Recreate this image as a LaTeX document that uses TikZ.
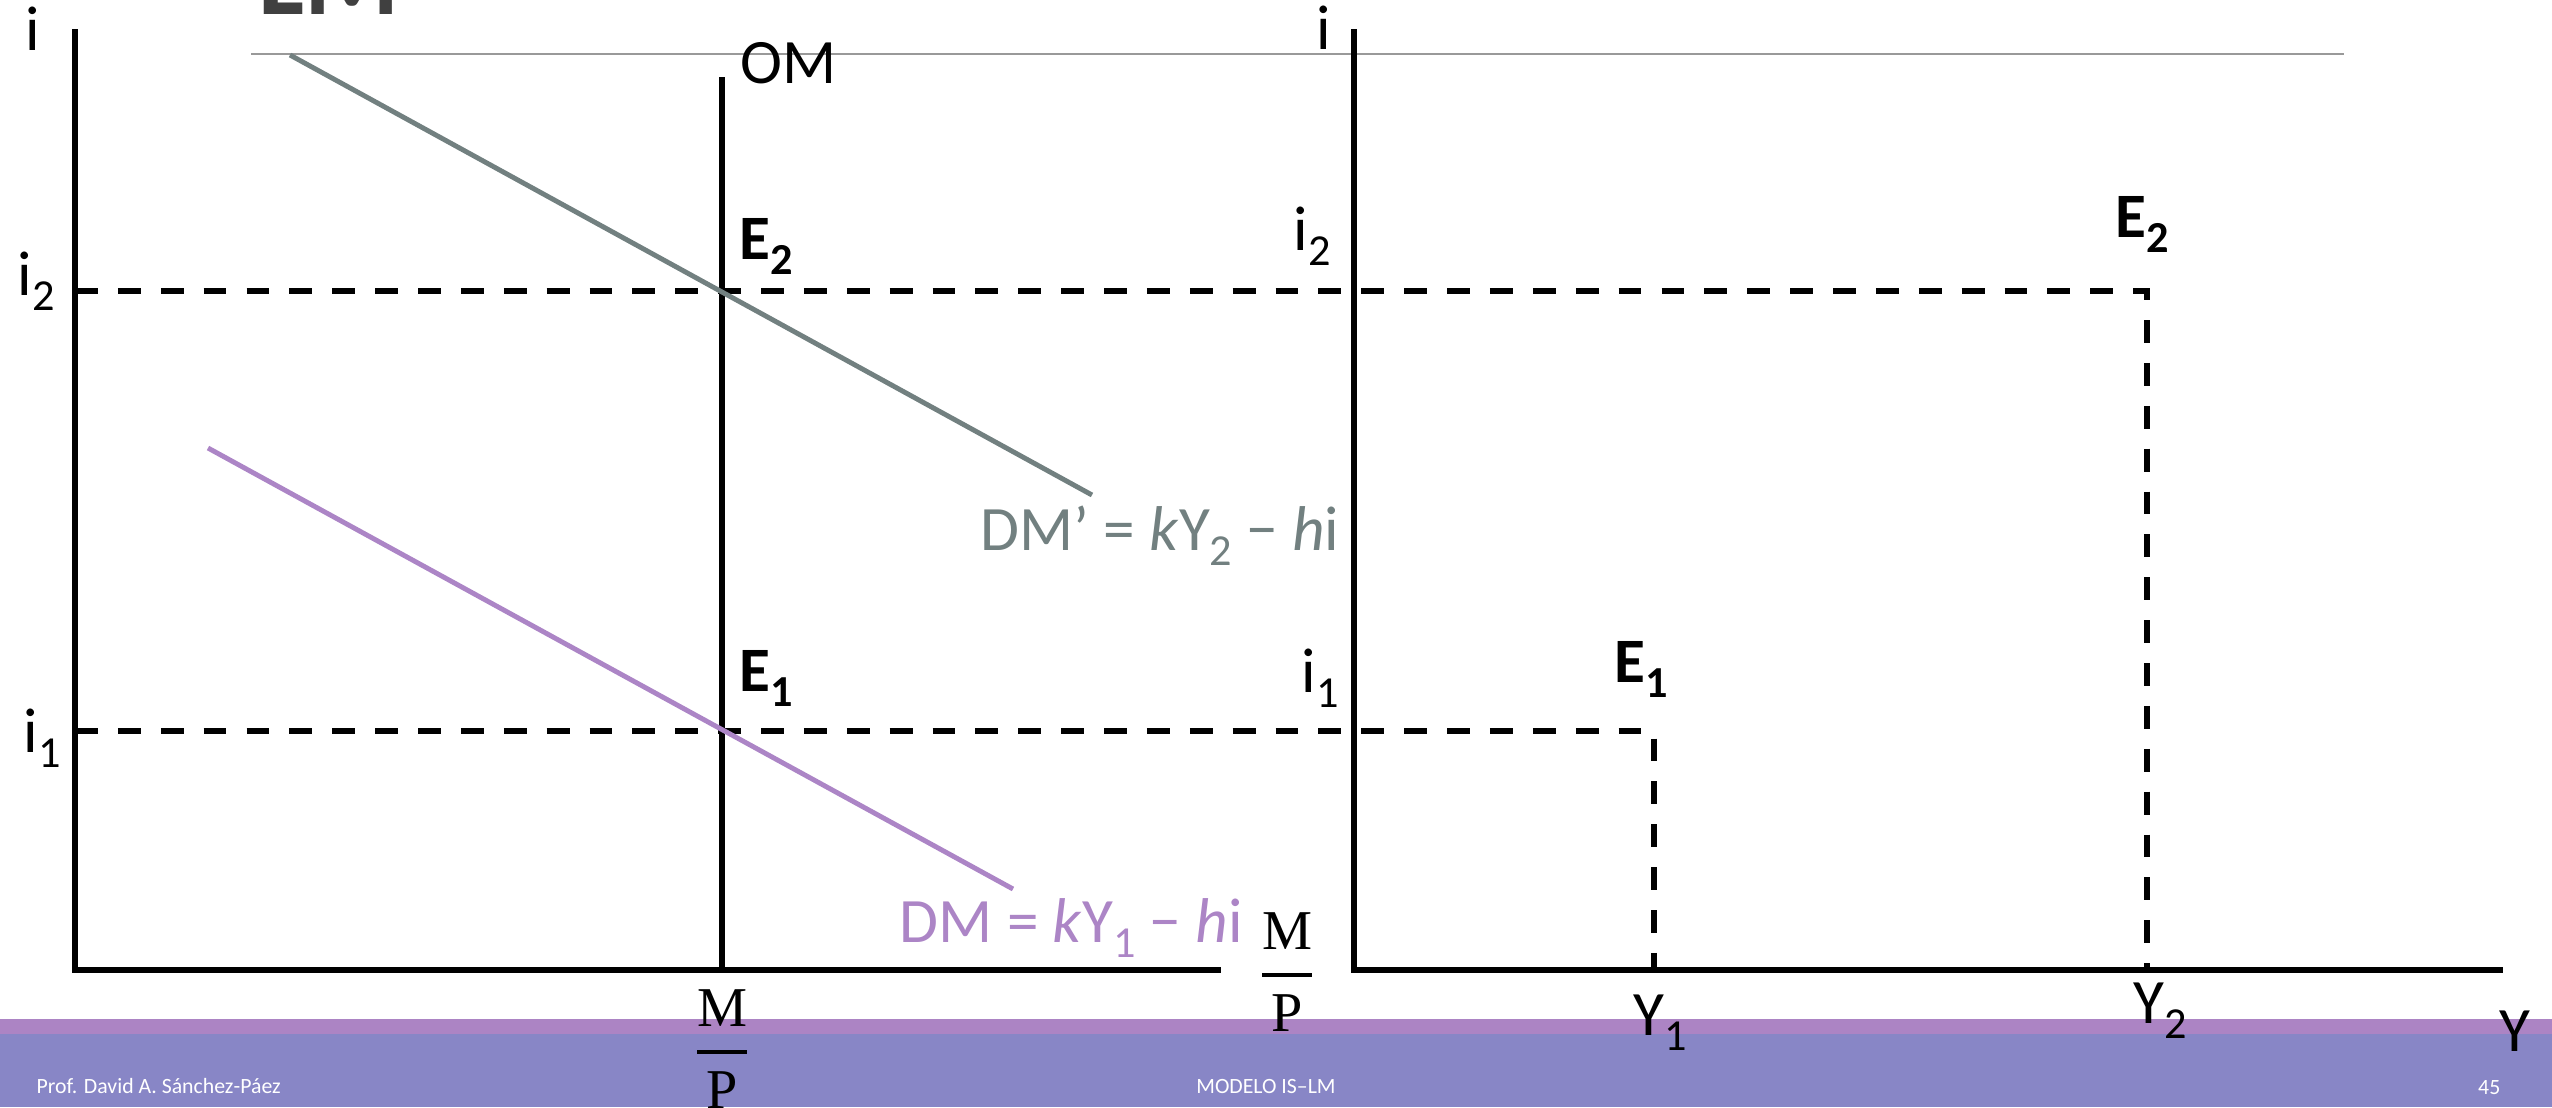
\documentclass[tikz,border=0pt]{standalone}
\usepackage{amsmath}
\usepackage[no-math]{fontspec}
\setmainfont{Carlito}
\newfontfamily\mpfont{Liberation Serif}

\definecolor{dmgray}{RGB}{114,128,128}
\definecolor{dmpurple}{RGB}{172,133,198}
\definecolor{bandlight}{RGB}{172,132,196}
\definecolor{bandblue}{RGB}{136,134,198}
\definecolor{titlegray}{RGB}{64,64,64}

\newcommand{\lowsub}[1]{\raisebox{-0.24em}{\fontsize{12.6}{13}\selectfont #1}}
\newcommand{\mpfrac}{$\genfrac{}{}{1.1pt}{0}{\text{\mpfont M}}{\text{\mpfont P}}$}

\tikzset{
  axisline/.style={line width=1.7pt},
  guide/.style={line width=1.7pt, dash pattern=on 6.5pt off 5.7pt},
  demand/.style={line width=1.4pt},
  lbl/.style={inner sep=0pt, anchor=base west, font=\fontsize{18}{20}\selectfont},
  ptlbl/.style={lbl, font=\fontsize{18}{20}\selectfont\bfseries},
  fraclbl/.style={inner sep=0pt, font=\fontsize{16}{18}\selectfont},
  foot/.style={inner sep=0pt, anchor=base, text=white, font=\fontsize{6.2}{7}\selectfont},
}

\begin{document}
\begin{tikzpicture}
    \clip (0,0) rectangle (25.52,11.07);

    % footer bands
    \fill[bandblue] (0,0) rectangle (25.52,0.73);
    \fill[bandlight] (0,0.73) rectangle (25.52,0.88);

    % title, cut by the top edge
    \node[inner sep=0pt, anchor=base west, text=titlegray, font=\fontsize{31}{34}\selectfont\bfseries] (title) at (2.58,10.93) {LM};
    \coordinate (rulel) at (2.51,10.53);
    \coordinate (ruler) at (23.44,10.53);
    \draw[black!40, line width=0.4pt] (rulel) -- (ruler);

    % points
    \coordinate (T1) at (0.75,10.78);
    \coordinate (O1) at (0.75,1.37);
    \coordinate (X1) at (12.21,1.37);
    \coordinate (T2) at (13.54,10.78);
    \coordinate (O2) at (13.54,1.37);
    \coordinate (X2) at (25.03,1.37);
    \coordinate (OMtop) at (7.22,10.30);
    \coordinate (OMbot) at (7.22,1.37);
    \coordinate (i2a) at (0.75,8.16);
    \coordinate (i1a) at (0.75,3.76);
    \coordinate (E2r) at (21.47,8.16);
    \coordinate (E1r) at (16.54,3.76);
    \coordinate (Y2) at (21.47,1.37);
    \coordinate (Y1) at (16.54,1.37);

    % dashed guides
    \draw[guide] (i2a) -- (E2r) -- (Y2);
    \draw[guide] (i1a) -- (E1r) -- (Y1);

    % axes and money supply
    \draw[axisline] (T1) -- (O1) -- (X1);
    \draw[axisline] (T2) -- (O2) -- (X2);
    \draw[axisline] (OMtop) -- (OMbot);

    % money demand
    \coordinate (dma) at (2.90,10.52);
    \coordinate (dmb) at (10.92,6.12);
    \coordinate (dmc) at (2.08,6.59);
    \coordinate (dmd) at (10.13,2.18);
    \draw[demand, dmgray] (dma) -- (dmb);
    \draw[demand, dmpurple] (dmc) -- (dmd);

    % labels
    \node[lbl] (ilft) at (0.25,10.57) {i};
    \node[lbl] (irgt) at (13.16,10.58) {i};
    \node[lbl] (om) at (7.40,10.24) {OM};
    \node[lbl] (i2l) at (0.17,8.12) {i\lowsub{2}};
    \node[lbl] (i1l) at (0.23,3.55) {i\lowsub{1}};
    \node[lbl] (i2r) at (12.93,8.57) {i\lowsub{2}};
    \node[lbl] (i1r) at (13.01,4.15) {i\lowsub{1}};
    \node[ptlbl] (E2l) at (7.39,8.48) {E\lowsub{2}};
    \node[ptlbl] (E1l) at (7.39,4.16) {E\lowsub{1}};
    \node[ptlbl] (E2rl) at (21.15,8.70) {E\lowsub{2}};
    \node[ptlbl] (E1rl) at (16.14,4.25) {E\lowsub{1}};
    \node[lbl, text=dmgray] (dm2) at (9.80,5.57) {DM' = \textit{k}Y\lowsub{2} − \textit{h}i};
    \node[lbl, text=dmpurple] (dm1) at (8.99,1.65) {DM = \textit{k}Y\lowsub{1} − \textit{h}i};
    \node[lbl] (y1) at (16.33,0.72) {Y\lowsub{1}};
    \node[lbl] (y2) at (21.33,0.84) {Y\lowsub{2}};
    \node[lbl] (yax) at (24.99,0.56) {Y};
    \node[fraclbl] (mp1) at (7.22,0.58) {\mpfrac};
    \node[fraclbl] (mp2) at (12.87,1.35) {\mpfrac};

    % footer
    \node[foot, anchor=base west] (author) at (0.36,0.14) {Prof. David A. Sánchez-Páez};
    \node[foot] (topic) at (12.66,0.14) {MODELO IS–LM};
    \node[foot, anchor=base east] (page) at (25.01,0.13) {45};
\end{tikzpicture}
\end{document}
